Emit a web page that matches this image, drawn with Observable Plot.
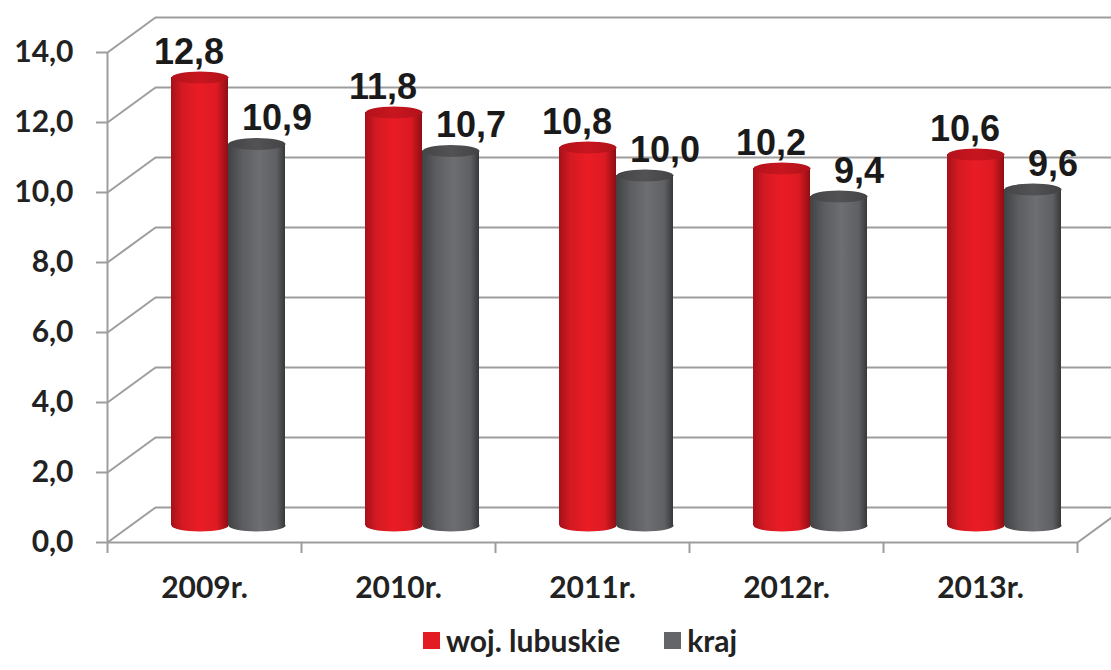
<!DOCTYPE html>
<html>
<head>
<meta charset="utf-8">
<script src="https://cdn.jsdelivr.net/npm/d3@7"></script>
<script src="https://cdn.jsdelivr.net/npm/@observablehq/plot@0.6"></script>
<style>
  html, body { margin: 0; padding: 0; background: #fff; }
  #wrap { position: relative; width: 1111px; height: 670px; overflow: hidden; }
  #legend { position: absolute; left: 423px; top: 622px; display: flex; align-items: center;
    font-family: Lato, sans-serif; font-weight: 700; font-size: 30px; color: #222; }
  #legend .sw { width: 17px; height: 17px; margin-right: 6px; }
  #legend .item { display: flex; align-items: center; margin-right: 44px; }
</style>
</head>
<body>
<div id="wrap"><div id="chart"></div><div id="legend"></div></div>
<script>
// ---- data ----
const years = ["2009r.", "2010r.", "2011r.", "2012r.", "2013r."];
const lubuskie = [12.8, 11.8, 10.8, 10.2, 10.6];
const kraj = [10.9, 10.7, 10.0, 9.4, 9.6];
const seriesNames = ["woj. lubuskie", "kraj"];
const seriesColors = ["#e31b23", "#646569"];
const yTicks = [0, 2, 4, 6, 8, 10, 12, 14];

// ---- layout / style ----
const W = 1111, H = 610;
const mL = 107, mR = 34, mT = 52, mB = H - 542;
const pxX = (W - mL - mR) / years.length;   // px per category unit
const pxY = (H - mT - mB) / 14;              // px per y unit
const backDX = 48, backDY = 35;              // back wall offset (px)
const barDX = 24, barDY = 17;                // bar plane offset (px)
const barW = 57 / pxX;                       // bar width in category units
const grid = "#9d9d9d";

const rows = years.flatMap((y, i) => [
  {year: y, i, series: seriesNames[0], value: lubuskie[i], k: 0},
  {year: y, i, series: seriesNames[1], value: kraj[i], k: 1}
]);
const fmt = v => v.toFixed(1).replace(".", ",");
const cx = d => d.i + 0.5 + (d.k === 0 ? -barW / 2 : barW / 2);

function ellipse(ry) {
  return (index, scales, values, dims, ctx, next) => {
    const g = next(index, scales, values, dims, ctx);
    g.querySelectorAll("circle").forEach(c => {
      const e = document.createElementNS("http://www.w3.org/2000/svg", "ellipse");
      e.setAttribute("cx", c.getAttribute("cx"));
      e.setAttribute("cy", c.getAttribute("cy"));
      e.setAttribute("rx", c.getAttribute("r"));
      e.setAttribute("ry", ry);
      c.replaceWith(e);
    });
    return g;
  };
}

const marks = [];
// back wall gridlines
marks.push(Plot.ruleY(yTicks, {x1: 0, x2: years.length, dx: backDX, dy: -backDY, stroke: grid, strokeWidth: 2}));
// left wall depth lines
marks.push(Plot.link(yTicks, {x1: 0, y1: d => d, x2: backDX / pxX, y2: d => d + backDY / pxY, stroke: grid, strokeWidth: 2}));
// floor right depth line
marks.push(Plot.link([0], {x1: years.length, y1: 0, x2: years.length + backDX / pxX, y2: backDY / pxY, stroke: grid, strokeWidth: 2}));
// front axis lines
marks.push(Plot.ruleY([0], {x1: 0, x2: years.length, stroke: grid, strokeWidth: 2}));
marks.push(Plot.ruleX([0], {y1: 0, y2: 14, stroke: grid, strokeWidth: 2}));

// cylinders
[0, 1].forEach(k => {
  const sub = rows.filter(d => d.k === k);
  const grad = k === 0 ? "url(#gRed)" : "url(#gGray)";
  const top = k === 0 ? "url(#gRedTop)" : "url(#gGrayTop)";
  marks.push(Plot.dot(sub, {x: cx, y: 0, r: 28.5, fill: grad, stroke: "none", dx: barDX, dy: -barDY, render: ellipse(6)}));
  marks.push(Plot.rectY(sub, {x1: d => cx(d) - barW / 2, x2: d => cx(d) + barW / 2, y1: 0, y2: "value", fill: grad, dx: barDX, dy: -barDY}));
  marks.push(Plot.dot(sub, {x: cx, y: "value", r: 28.5, fill: top, stroke: "none", dx: barDX, dy: -barDY, render: ellipse(6)}));
});

// value labels
const labelFont = {lineAnchor: "bottom", fontSize: 36, fontWeight: "bold", fontFamily: "Liberation Sans, Arial, sans-serif", fill: "#1a1a1a"};
marks.push(Plot.text(rows.filter(d => d.k === 0), {x: cx, y: "value", text: d => fmt(d.value), dx: barDX - 11, dy: -barDY - 14, ...labelFont}));
marks.push(Plot.text(rows.filter(d => d.k === 1), {x: cx, y: "value", text: d => fmt(d.value), dx: barDX + 20, dy: -barDY - 14, ...labelFont}));

// axes
marks.push(Plot.axisY({ticks: yTicks, tickSize: 11, tickPadding: 23, tickFormat: fmt, label: null,
  stroke: grid, strokeWidth: 2, fill: "#222", fontSize: 30, fontWeight: "bold", fontFamily: "Lato, sans-serif"}));
marks.push(Plot.axisX({ticks: d3.range(years.length + 1), tickSize: 11, tickFormat: () => "", label: null,
  stroke: grid, strokeWidth: 2}));
marks.push(Plot.text(years, {x: (d, i) => i + 0.5, y: 0, text: d => d, dy: 46, lineAnchor: "middle",
  fontSize: 30, fontWeight: "bold", fontFamily: "Lato, sans-serif", fill: "#222"}));

const chart = Plot.plot({
  width: W, height: H,
  marginLeft: mL, marginRight: mR, marginTop: mT, marginBottom: mB,
  x: {type: "linear", domain: [0, years.length]},
  y: {domain: [0, 14]},
  style: {background: "#fff", overflow: "visible"},
  marks
});

const ns = "http://www.w3.org/2000/svg";
const defs = document.createElementNS(ns, "defs");
defs.innerHTML = `
<linearGradient id="gRed" x1="0" x2="1" y1="0" y2="0">
  <stop offset="0" stop-color="#a5111a"/><stop offset="0.2" stop-color="#d41a22"/>
  <stop offset="0.5" stop-color="#ea1c25"/><stop offset="0.8" stop-color="#dd1a22"/>
  <stop offset="1" stop-color="#8f0e15"/></linearGradient>
<linearGradient id="gGray" x1="0" x2="1" y1="0" y2="0">
  <stop offset="0" stop-color="#424244"/><stop offset="0.25" stop-color="#5c5d60"/>
  <stop offset="0.55" stop-color="#6d6e71"/><stop offset="0.85" stop-color="#5f6063"/>
  <stop offset="1" stop-color="#38383a"/></linearGradient>
<linearGradient id="gRedTop" x1="0" x2="1" y1="0" y2="0">
  <stop offset="0" stop-color="#b3121b"/><stop offset="0.5" stop-color="#c8161f"/>
  <stop offset="1" stop-color="#b0121a"/></linearGradient>
<linearGradient id="gGrayTop" x1="0" x2="1" y1="0" y2="0">
  <stop offset="0" stop-color="#454547"/><stop offset="0.5" stop-color="#525255"/>
  <stop offset="1" stop-color="#434345"/></linearGradient>`;
chart.insertBefore(defs, chart.firstChild);
document.getElementById("chart").appendChild(chart);

// legend
const legend = document.getElementById("legend");
seriesNames.forEach((n, k) => {
  const item = document.createElement("div");
  item.className = "item";
  item.innerHTML = `<div class="sw" style="background:${seriesColors[k]}"></div><span>${n}</span>`;
  legend.appendChild(item);
});
</script>
</body>
</html>
